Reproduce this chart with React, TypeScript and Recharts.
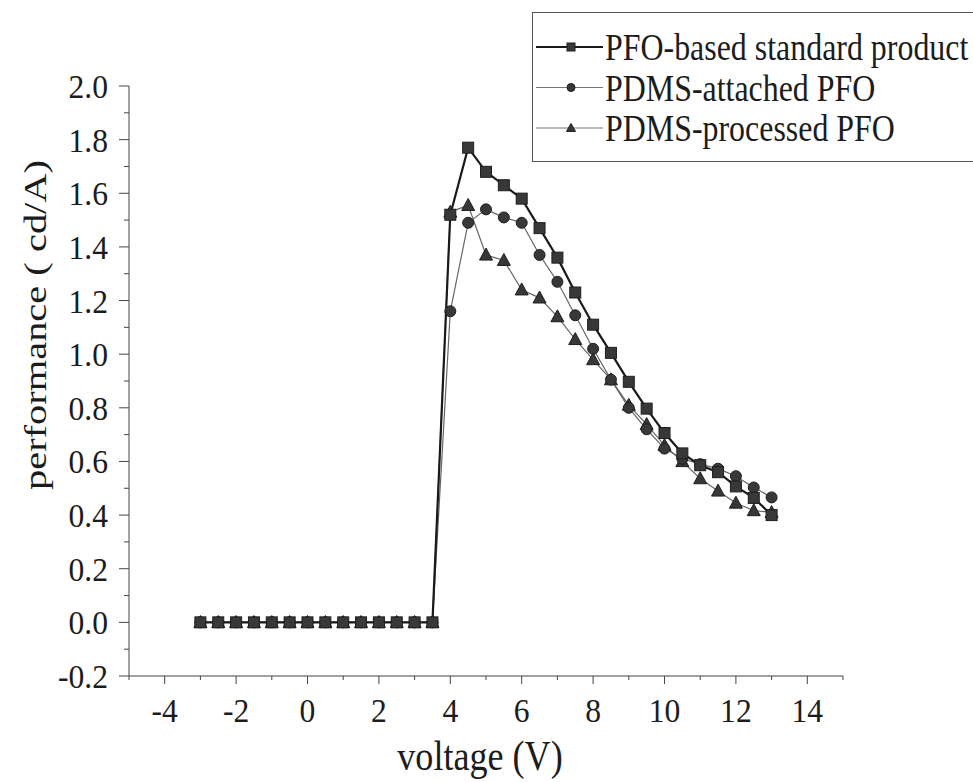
import React from 'react';
import { LineChart, Line, XAxis, YAxis, Legend, Label } from 'recharts';

const voltage = [-3, -2.5, -2, -1.5, -1, -0.5, 0, 0.5, 1, 1.5, 2, 2.5, 3, 3.5, 4, 4.5, 5, 5.5, 6, 6.5, 7, 7.5, 8, 8.5, 9, 9.5, 10, 10.5, 11, 11.5, 12, 12.5, 13];
const standardProduct = [0, 0, 0, 0, 0, 0, 0, 0, 0, 0, 0, 0, 0, 0, 1.52, 1.77, 1.68, 1.63, 1.58, 1.47, 1.36, 1.23, 1.11, 1.005, 0.897, 0.797, 0.706, 0.63, 0.586, 0.56, 0.507, 0.464, 0.4];
const pdmsAttached = [0, 0, 0, 0, 0, 0, 0, 0, 0, 0, 0, 0, 0, 0, 1.16, 1.49, 1.54, 1.51, 1.49, 1.37, 1.27, 1.145, 1.02, 0.905, 0.8, 0.72, 0.648, 0.61, 0.59, 0.573, 0.545, 0.503, 0.466];
const pdmsProcessed = [0, 0, 0, 0, 0, 0, 0, 0, 0, 0, 0, 0, 0, 0, 1.53, 1.555, 1.37, 1.35, 1.24, 1.21, 1.14, 1.055, 0.98, 0.905, 0.81, 0.738, 0.66, 0.6, 0.536, 0.49, 0.445, 0.417, 0.41];

const seriesNames = ['PFO-based standard product', 'PDMS-attached PFO', 'PDMS-processed PFO'];
const xTicks = [-5, -4, -3, -2, -1, 0, 1, 2, 3, 4, 5, 6, 7, 8, 9, 10, 11, 12, 13, 14, 15];
const xTickLabels = ['-4', '-2', '0', '2', '4', '6', '8', '10', '12', '14'];
const yTicks = [-0.2, -0.1, 0, 0.1, 0.2, 0.3, 0.4, 0.5, 0.6, 0.7, 0.8, 0.9, 1.0, 1.1, 1.2, 1.3, 1.4, 1.5, 1.6, 1.7, 1.8, 1.9, 2.0];
const yTickLabels = ['-0.2', '0.0', '0.2', '0.4', '0.6', '0.8', '1.0', '1.2', '1.4', '1.6', '1.8', '2.0'];
const xTitle = 'voltage (V)';
const yTitle = 'performance ( cd/A)';

const data = voltage.map((v, i) => ({
  v,
  std: standardProduct[i],
  att: pdmsAttached[i],
  proc: pdmsProcessed[i],
}));

const FONT = "'Liberation Serif', 'Times New Roman', Times, serif";
const INK = '#1c1c1c';
const SX = 0.93;
const txt = { fontFamily: FONT };

function SquareMark({ cx, cy, s }: any) {
  return <rect x={cx - s / 2} y={cy - s / 2} width={s} height={s} fill="#383838" stroke="#1e1e1e" strokeWidth={1} />;
}
function CircleMark({ cx, cy, s }: any) {
  return <circle cx={cx} cy={cy} r={s / 2} fill="#383838" stroke="#1e1e1e" strokeWidth={1} />;
}
function TriMark({ cx, cy, s }: any) {
  const h = s * 0.95;
  return (
    <polygon
      points={`${cx},${cy - h * 0.6} ${cx + s / 2 + 0.5},${cy + h * 0.45} ${cx - s / 2 - 0.5},${cy + h * 0.45}`}
      fill="#383838"
      stroke="#1e1e1e"
      strokeWidth={1}
    />
  );
}

function XTick({ x, y, payload }: any) {
  const v = payload.value;
  const label = xTickLabels.find((t) => Number(t) === v);
  const major = label !== undefined;
  return (
    <g>
      <line x1={x} x2={x} y1={y} y2={y + (major ? 8 : 4)} stroke="#444" strokeWidth={1} />
      {major && (
        <text transform={`translate(${x},${y + 46}) scale(${SX},1)`} textAnchor="middle" style={txt} fontSize={34} fill={INK}>
          {label}
        </text>
      )}
    </g>
  );
}

function YTick({ x, y, payload }: any) {
  const v = payload.value;
  const label = yTickLabels.find((t) => Math.abs(Number(t) - v) < 1e-6);
  const major = label !== undefined;
  return (
    <g>
      <line x1={x} x2={x - (major ? 10 : 5)} y1={y} y2={y} stroke="#444" strokeWidth={1} />
      {major && (
        <text transform={`translate(${x - 21},${y + 12}) scale(${SX},1)`} textAnchor="end" style={txt} fontSize={34} fill={INK}>
          {label}
        </text>
      )}
    </g>
  );
}

function XTitle({ viewBox }: any) {
  const cx = viewBox.x + viewBox.width / 2 - 6;
  const by = viewBox.y + 94;
  return (
    <text transform={`translate(${cx},${by}) scale(0.86,1)`} textAnchor="middle" style={txt} fontSize={42} fill={INK}>
      {xTitle}
    </text>
  );
}

function YTitle({ viewBox }: any) {
  const cx = viewBox.x + 46;
  const cy = viewBox.y + 239;
  return (
    <text
      transform={`translate(${cx},${cy}) scale(0.85,1) rotate(-90)`}
      textAnchor="middle"
      style={txt}
      fontSize={38}
      fill={INK}
      textLength={330}
      lengthAdjust="spacingAndGlyphs"
    >
      {yTitle}
    </text>
  );
}

function LegendBox() {
  const rows = [
    { name: seriesNames[0], mark: SquareMark, stroke: '#1a1a1a', w: 2 },
    { name: seriesNames[1], mark: CircleMark, stroke: '#777', w: 1.2 },
    { name: seriesNames[2], mark: TriMark, stroke: '#777', w: 1.2 },
  ];
  return (
    <svg width={973} height={170} style={{ display: 'block' }}>
      <rect x={532.5} y={12.5} width={460} height={149} fill="#fff" stroke="#555" strokeWidth={1} />
      {rows.map((r, i) => {
        const cy = 47 + i * 40.5;
        const M = r.mark;
        return (
          <g key={r.name}>
            <line x1={536} x2={603} y1={cy} y2={cy} stroke={r.stroke} strokeWidth={r.w} />
            <M cx={571} cy={cy} s={8} />
            <text transform={`translate(605,${cy + 13}) scale(0.84,1)`} style={txt} fontSize={38} fill={INK}>
              {r.name}
            </text>
          </g>
        );
      })}
    </svg>
  );
}

export default function App() {
  return (
    <div style={{ position: 'absolute', left: 0, top: 0, width: 973, height: 782, background: '#fff' }}>
      <LineChart width={973} height={782} data={data} margin={{ top: 86, right: 130, bottom: 0, left: 0 }}>
        <XAxis
          dataKey="v"
          type="number"
          domain={[-5, 15]}
          ticks={xTicks}
          interval={0}
          allowDataOverflow
          height={106}
          tickSize={0}
          tickMargin={0}
          tickLine={false}
          axisLine={{ stroke: '#444', strokeWidth: 1 }}
          tick={<XTick />}
        >
          <Label content={<XTitle />} />
        </XAxis>
        <YAxis
          type="number"
          domain={[-0.2, 2.0]}
          ticks={yTicks}
          interval={0}
          allowDataOverflow
          width={129}
          tickSize={0}
          tickMargin={0}
          tickLine={false}
          axisLine={{ stroke: '#444', strokeWidth: 1 }}
          tick={<YTick />}
        >
          <Label content={<YTitle />} />
        </YAxis>
        <Legend
          layout="vertical"
          verticalAlign="middle"
          align="center"
          wrapperStyle={{ left: 0, top: 0, width: 973, height: 170 }}
          content={() => <LegendBox />}
        />
        <Line
          name={seriesNames[2]}
          dataKey="proc"
          type="linear"
          stroke="#666"
          strokeWidth={1.2}
          isAnimationActive={false}
          dot={(p: any) => <TriMark key={`t${p.index}`} cx={p.cx} cy={p.cy} s={12} />}
          activeDot={false}
        />
        <Line
          name={seriesNames[1]}
          dataKey="att"
          type="linear"
          stroke="#666"
          strokeWidth={1.2}
          isAnimationActive={false}
          dot={(p: any) => <CircleMark key={`c${p.index}`} cx={p.cx} cy={p.cy} s={11} />}
          activeDot={false}
        />
        <Line
          name={seriesNames[0]}
          dataKey="std"
          type="linear"
          stroke="#1a1a1a"
          strokeWidth={2.2}
          isAnimationActive={false}
          dot={(p: any) => <SquareMark key={`s${p.index}`} cx={p.cx} cy={p.cy} s={11} />}
          activeDot={false}
        />
      </LineChart>
    </div>
  );
}
